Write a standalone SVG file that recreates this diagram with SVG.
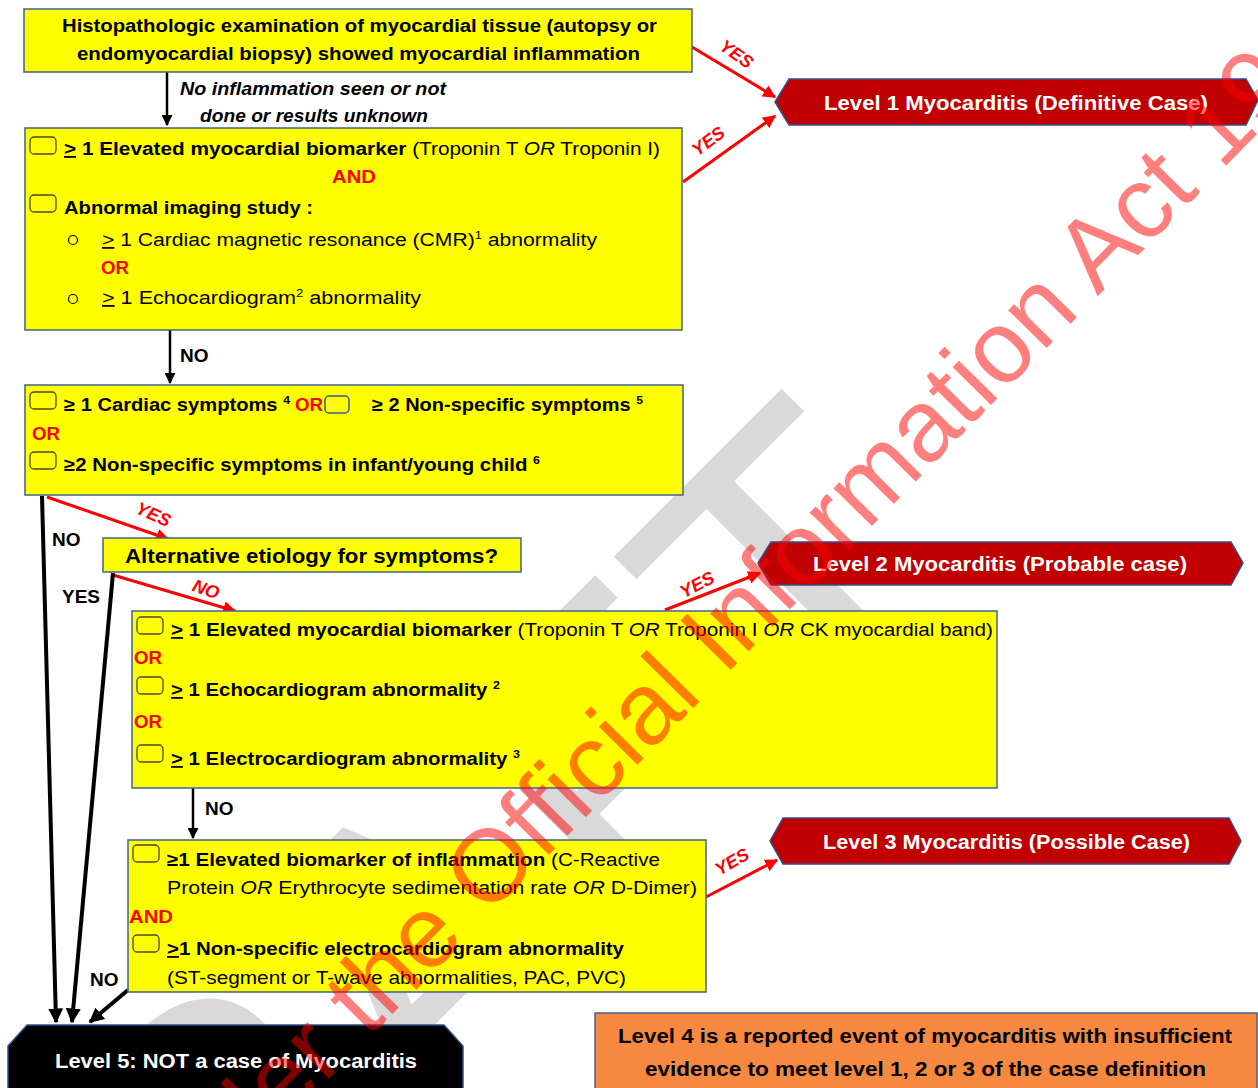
<svg xmlns="http://www.w3.org/2000/svg" width="1258" height="1088" viewBox="0 0 1258 1088">
<style>
text{font-family:"Liberation Sans",Arial,sans-serif;font-size:18px;fill:#000}
.b{font-weight:bold}
.i{font-style:italic}
.red{fill:#FF0000;font-weight:bold}
.box{fill:#FFFF00;stroke:#41628F;stroke-width:1.5}
.cb{fill:none;stroke:#4A4A2A;stroke-width:1.3}
.ban{fill:#C00000;stroke:#2F4F8F;stroke-width:1.5}
.bt{fill:#FFFFFF;font-weight:bold;font-size:20px}
.ar{stroke:#000;stroke-width:2.5;fill:none}
.ark{stroke:#000;stroke-width:4;fill:none}
.ra{stroke:#FF0000;stroke-width:3;fill:none}
.lab{fill:#FF0000;font-weight:bold;font-style:italic;font-size:18px}
.nl{font-weight:bold;font-size:19px}
.bul{fill:none;stroke:#000;stroke-width:1.2}
</style>
<defs>
<marker id="mb" viewBox="0 0 10 10" refX="9" refY="5" markerWidth="11" markerHeight="11" markerUnits="userSpaceOnUse" orient="auto"><path d="M0,0 L10,5 L0,10 z" fill="#000"/></marker>
<marker id="mbk" viewBox="0 0 10 10" refX="9" refY="5" markerWidth="15" markerHeight="15" markerUnits="userSpaceOnUse" orient="auto"><path d="M0,0 L10,5 L0,10 z" fill="#000"/></marker>
<marker id="mr" viewBox="0 0 10 10" refX="9" refY="5" markerWidth="13" markerHeight="13" markerUnits="userSpaceOnUse" orient="auto"><path d="M0,0 L10,5 L0,10 z" fill="#FF0000"/></marker>
</defs>
<rect width="1258" height="1088" fill="#FFFFFF"/>
<g id="watermark-draft">
<text transform="translate(3,1576) rotate(-45)" style="font-size:420px;fill:#D9D9D9">DRAFT</text>
</g>
<g id="connectors">
<line class="ar" x1="167" y1="72" x2="167" y2="125" marker-end="url(#mb)"/>
<text class="b i" x="180" y="95" textLength="266" lengthAdjust="spacingAndGlyphs">No inflammation seen or not</text>
<text class="b i" x="200" y="122" textLength="228" lengthAdjust="spacingAndGlyphs">done or results unknown</text>
<line class="ra" x1="692" y1="47" x2="775" y2="97" marker-end="url(#mr)"/>
<text class="lab" transform="translate(733,59) rotate(35)" text-anchor="middle">YES</text>
<line class="ra" x1="683" y1="182" x2="775" y2="116" marker-end="url(#mr)"/>
<text class="lab" transform="translate(712,146) rotate(-37)" text-anchor="middle">YES</text>
<line class="ar" x1="170" y1="330" x2="170" y2="383" marker-end="url(#mb)"/>
<text class="nl" x="180" y="362">NO</text>
<line class="ra" x1="47" y1="497" x2="168" y2="539" marker-end="url(#mr)"/>
<text class="lab" transform="translate(151,520) rotate(24)" text-anchor="middle">YES</text>
<line class="ark" x1="42" y1="496" x2="56" y2="1022" marker-end="url(#mbk)"/>
<text class="nl" x="52" y="546">NO</text>
<line class="ra" x1="113" y1="575" x2="235" y2="611" marker-end="url(#mr)"/>
<text class="lab" transform="translate(204,595) rotate(20)" text-anchor="middle">NO</text>
<line class="ark" x1="113" y1="573" x2="72" y2="1022" marker-end="url(#mbk)"/>
<text class="nl" x="62" y="603">YES</text>
<line class="ra" x1="665" y1="610" x2="760" y2="573" marker-end="url(#mr)"/>
<text class="lab" transform="translate(700,590) rotate(-28)" text-anchor="middle">YES</text>
<line class="ar" x1="193" y1="788" x2="193" y2="838" marker-end="url(#mb)"/>
<text class="nl" x="205" y="815">NO</text>
<line class="ra" x1="706" y1="897" x2="777" y2="860" marker-end="url(#mr)"/>
<text class="lab" transform="translate(735,867) rotate(-30)" text-anchor="middle">YES</text>
<line class="ark" x1="128" y1="990" x2="90" y2="1022" marker-end="url(#mbk)"/>
<text class="nl" x="90" y="986">NO</text>
</g>
<g id="node-histopath">
<rect class="box" x="24" y="9" width="668" height="63"/>
<text class="b" x="62" y="32" textLength="595" lengthAdjust="spacingAndGlyphs">Histopathologic examination of myocardial tissue (autopsy or</text>
<text class="b" x="77" y="60" textLength="563" lengthAdjust="spacingAndGlyphs">endomyocardial biopsy) showed myocardial inflammation</text>
</g>
<g id="node-level1">
<polygon class="ban" points="775,102 789,79 1246,79 1258,100 1246,125 789,125"/>
<text class="bt" x="824" y="110" textLength="384" lengthAdjust="spacingAndGlyphs">Level 1 Myocarditis (Definitive Case)</text>
</g>
<g id="node-biomarker-imaging">
<rect class="box" x="25" y="128" width="657" height="202"/>
<rect class="cb" x="30" y="137" width="26" height="17" rx="4"/>
<text x="64" y="155" textLength="596" lengthAdjust="spacingAndGlyphs"><tspan class="b" text-decoration="underline">&gt;</tspan><tspan class="b"> 1 Elevated myocardial biomarker</tspan> (Troponin T <tspan class="i">OR</tspan> Troponin I)</text>
<text class="red" x="332" y="183" textLength="44" lengthAdjust="spacingAndGlyphs">AND</text>
<rect class="cb" x="30" y="195" width="26" height="17" rx="4"/>
<text class="b" x="64" y="214" textLength="249" lengthAdjust="spacingAndGlyphs">Abnormal imaging study :</text>
<circle class="bul" cx="73" cy="240" r="4.5"/>
<text x="102" y="246" textLength="495" lengthAdjust="spacingAndGlyphs"><tspan text-decoration="underline">&gt;</tspan> 1 Cardiac magnetic resonance (CMR)<tspan dy="-7" font-size="11">1</tspan><tspan dy="7"> abnormality</tspan></text>
<text class="red" x="101" y="274" textLength="28" lengthAdjust="spacingAndGlyphs">OR</text>
<circle class="bul" cx="73" cy="299" r="4.5"/>
<text x="102" y="304" textLength="319" lengthAdjust="spacingAndGlyphs"><tspan text-decoration="underline">&gt;</tspan> 1 Echocardiogram<tspan dy="-7" font-size="11">2</tspan><tspan dy="7"> abnormality</tspan></text>
</g>
<g id="node-symptoms">
<rect class="box" x="25" y="385" width="658" height="110"/>
<rect class="cb" x="30" y="392" width="26" height="17" rx="4"/>
<text class="b" x="64" y="411" textLength="226" lengthAdjust="spacingAndGlyphs">≥ 1 Cardiac symptoms <tspan dy="-7" font-size="11">4</tspan></text>
<text class="red" x="295" y="411" textLength="28" lengthAdjust="spacingAndGlyphs">OR</text>
<rect x="325" y="396" width="24" height="17" rx="4" fill="none" stroke="#3D5C8C" stroke-width="1.5"/>
<text class="b" x="372" y="411" textLength="271" lengthAdjust="spacingAndGlyphs">≥ 2 Non-specific symptoms <tspan dy="-7" font-size="11">5</tspan></text>
<text class="red" x="32" y="440" textLength="28" lengthAdjust="spacingAndGlyphs">OR</text>
<rect class="cb" x="30" y="452" width="26" height="17" rx="4"/>
<text class="b" x="64" y="471" textLength="476" lengthAdjust="spacingAndGlyphs">≥2 Non-specific symptoms in infant/young child <tspan dy="-7" font-size="11">6</tspan></text>
</g>
<g id="node-alternative">
<rect class="box" x="103" y="538" width="418" height="34"/>
<text class="b" x="125" y="563" style="font-size:20px" textLength="373" lengthAdjust="spacingAndGlyphs">Alternative etiology for symptoms?</text>
</g>
<g id="node-level2">
<polygon class="ban" points="758,563 771,542 1231,542 1243,563 1231,585 771,585"/>
<text class="bt" x="813" y="571" textLength="374" lengthAdjust="spacingAndGlyphs">Level 2 Myocarditis (Probable case)</text>
</g>
<g id="node-probable-criteria">
<rect class="box" x="132" y="611" width="865" height="177"/>
<rect class="cb" x="137" y="617" width="26" height="17" rx="4"/>
<text x="171" y="636" textLength="822" lengthAdjust="spacingAndGlyphs"><tspan class="b" text-decoration="underline">&gt;</tspan><tspan class="b"> 1 Elevated myocardial biomarker</tspan> (Troponin T <tspan class="i">OR</tspan> Troponin I <tspan class="i">OR</tspan> CK myocardial band)</text>
<text class="red" x="134" y="664" textLength="28" lengthAdjust="spacingAndGlyphs">OR</text>
<rect class="cb" x="137" y="677" width="26" height="17" rx="4"/>
<text class="b" x="171" y="696" textLength="329" lengthAdjust="spacingAndGlyphs"><tspan text-decoration="underline">&gt;</tspan> 1 Echocardiogram abnormality <tspan dy="-7" font-size="11">2</tspan></text>
<text class="red" x="134" y="728" textLength="28" lengthAdjust="spacingAndGlyphs">OR</text>
<rect class="cb" x="137" y="745" width="26" height="17" rx="4"/>
<text class="b" x="171" y="765" textLength="349" lengthAdjust="spacingAndGlyphs"><tspan text-decoration="underline">&gt;</tspan> 1 Electrocardiogram abnormality <tspan dy="-7" font-size="11">3</tspan></text>
</g>
<g id="node-level3">
<polygon class="ban" points="770,841 783,818 1229,818 1241,841 1229,864 783,864"/>
<text class="bt" x="823" y="849" textLength="367" lengthAdjust="spacingAndGlyphs">Level 3 Myocarditis (Possible Case)</text>
</g>
<g id="node-possible-criteria">
<rect class="box" x="128" y="840" width="578" height="152"/>
<rect class="cb" x="133" y="845" width="26" height="17" rx="4"/>
<text x="167" y="866" textLength="493" lengthAdjust="spacingAndGlyphs"><tspan class="b">≥1 Elevated biomarker of inflammation</tspan> (C-Reactive</text>
<text x="167" y="894" textLength="530" lengthAdjust="spacingAndGlyphs">Protein <tspan class="i">OR</tspan> Erythrocyte sedimentation rate <tspan class="i">OR</tspan> D-Dimer)</text>
<text class="red" x="129" y="923" textLength="44" lengthAdjust="spacingAndGlyphs">AND</text>
<rect class="cb" x="133" y="935" width="26" height="17" rx="4"/>
<text class="b" x="167" y="955" textLength="457" lengthAdjust="spacingAndGlyphs"><tspan text-decoration="underline">&gt;</tspan>1 Non-specific electrocardiogram abnormality</text>
<text x="167" y="984" textLength="459" lengthAdjust="spacingAndGlyphs">(ST-segment or T-wave abnormalities, PAC, PVC)</text>
</g>
<g id="node-level5">
<polygon points="8,1046 27,1025 444,1025 463,1046 463,1100 8,1100" fill="#000" stroke="#2F4F8F" stroke-width="1.5"/>
<text class="bt" x="55" y="1068" textLength="362" lengthAdjust="spacingAndGlyphs">Level 5: NOT a case of Myocarditis</text>
</g>
<g id="node-level4">
<rect x="595" y="1013" width="662" height="90" fill="#F7883F" stroke="#41628F" stroke-width="1.5"/>
<text class="b" x="618" y="1043" style="font-size:20px" textLength="614" lengthAdjust="spacingAndGlyphs">Level 4 is a reported event of myocarditis with insufficient</text>
<text class="b" x="645" y="1076" style="font-size:20px" textLength="561" lengthAdjust="spacingAndGlyphs">evidence to meet level 1, 2 or 3 of the case definition</text>
</g>
<g id="watermark-oia" opacity="0.5">
<text transform="translate(-157,1573) rotate(-45.5)" style="font-size:102px;fill:#FF0000">Released under the Official Information Act 1982</text>
</g>
</svg>
